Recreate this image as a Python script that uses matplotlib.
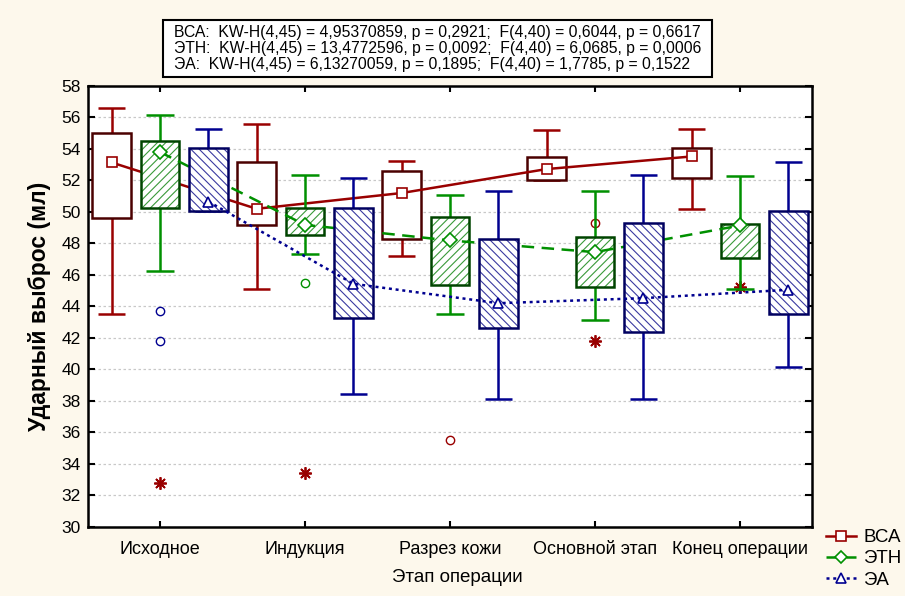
import matplotlib
matplotlib.use("Agg")
import matplotlib.pyplot as plt
from matplotlib.patches import Rectangle
from matplotlib.lines import Line2D
import numpy as np

plt.rcParams['font.family'] = ['Liberation Sans', 'DejaVu Sans']
plt.rcParams['hatch.linewidth'] = 0.8

# ==========================================
# DATOS
# ==========================================

etapy = ["Исходное", "Индукция", "Разрез кожи", "Основной этап", "Конец операции"]
gruppy = ["ВСА", "ЭТН", "ЭА"]

# ВСА
vsa_mean = [53.13, 50.19, 51.19, 52.71, 53.51]
vsa_box_lo = [49.60, 49.17, 48.27, 51.99, 52.14]
vsa_box_hi = [55.02, 53.16, 52.56, 53.47, 54.04]
vsa_wh_lo = [43.50, 45.11, 47.21, 51.99, 50.15]
vsa_wh_hi = [56.56, 55.59, 53.24, 55.16, 55.25]
vsa_out_x = [2, 3]
vsa_out_y = [35.5, 49.3]
vsa_ext_x = [0, 1, 3, 4]
vsa_ext_y = [32.8, 33.4, 41.8, 45.2]

# ЭТН
etn_mean = [53.79, 49.17, 48.18, 47.44, 49.13]
etn_box_lo = [50.23, 48.50, 45.34, 45.20, 47.06]
etn_box_hi = [54.50, 50.21, 49.64, 48.37, 49.24]
etn_wh_lo = [46.25, 47.31, 43.50, 43.16, 45.11]
etn_wh_hi = [56.16, 52.35, 51.04, 51.35, 52.24]
etn_out_x = [1]
etn_out_y = [45.5]

# ЭА
ea_mean = [50.65, 45.43, 44.20, 44.52, 45.05]
ea_box_lo = [50.06, 43.25, 42.60, 42.38, 43.52]
ea_box_hi = [54.04, 50.21, 48.27, 49.32, 50.06]
ea_wh_lo = [50.06, 38.46, 38.11, 38.15, 40.18]
ea_wh_hi = [55.25, 52.16, 51.35, 52.35, 53.16]
ea_out_x = [0, 0]
ea_out_y = [43.7, 41.8]

stat_text = ("ВСА:  KW-H(4,45) = 4,95370859, p = 0,2921;  F(4,40) = 0,6044, p = 0,6617\n"
             "ЭТН:  KW-H(4,45) = 13,4772596, p = 0,0092;  F(4,40) = 6,0685, p = 0,0006\n"
             "ЭА:  KW-H(4,45) = 6,13270059, p = 0,1895;  F(4,40) = 1,7785, p = 0,1522")

# ==========================================
# FIGURA
# ==========================================

fig = plt.figure(figsize=(9.05, 5.96), dpi=100, facecolor="#fdf8ec")
ax = fig.add_axes([87.5 / 905, 1 - 527 / 596, 724 / 905, 441.3 / 596])
ax.set_facecolor("white")

ancho = 0.267
cap = 0.19
desp = 0.334


def dibujar_serie(k, mean, blo, bhi, wlo, whi, col, col_marco, col_rayas, rayas,
                  estilo, marcador, z):
    xs = np.arange(len(mean)) + (k - 1) * desp
    for i, x in enumerate(xs):
        ax.vlines(x, wlo[i], whi[i], color=col, lw=1.8, zorder=z)
        ax.hlines([wlo[i], whi[i]], x - cap / 2, x + cap / 2, color=col, lw=1.8, zorder=z)
        ax.add_patch(Rectangle((x - ancho / 2, blo[i]), ancho, bhi[i] - blo[i],
                               facecolor="white", edgecolor="none", zorder=z + 0.1))
        if rayas:
            ax.add_patch(Rectangle((x - ancho / 2, blo[i]), ancho, bhi[i] - blo[i],
                                   fill=False, hatch=rayas, edgecolor=col_rayas,
                                   lw=0, zorder=z + 0.2))
        ax.add_patch(Rectangle((x - ancho / 2, blo[i]), ancho, bhi[i] - blo[i],
                               fill=False, edgecolor=col_marco, lw=1.8, zorder=z + 0.3))
    ax.plot(xs, mean, color=col, ls=estilo, lw=1.8, marker=marcador, ms=7,
            mfc="white", mec=col, mew=1.2, zorder=z + 0.5)


dibujar_serie(0, vsa_mean, vsa_box_lo, vsa_box_hi, vsa_wh_lo, vsa_wh_hi,
              "#990000", "#4a0000", None, None, "-", "s", 2)
dibujar_serie(1, etn_mean, etn_box_lo, etn_box_hi, etn_wh_lo, etn_wh_hi,
              "#009000", "#004400", "#3a9a3a", "////", (0, (5, 3)), "D", 3)
dibujar_serie(2, ea_mean, ea_box_lo, ea_box_hi, ea_wh_lo, ea_wh_hi,
              "#000090", "#000060", "#3a3aa0", "\\\\\\\\", (0, (1.2, 1.5)), "^", 4)

# выбросы
ax.plot(vsa_out_x, vsa_out_y, ls="none", marker="o", ms=6, mfc="none",
        mec="#990000", mew=1.0, zorder=2.6)
ax.plot(vsa_ext_x, vsa_ext_y, ls="none", marker=(8, 2, 0), ms=9,
        mec="#990000", mew=1.3, zorder=2.6)
ax.plot(etn_out_x, etn_out_y, ls="none", marker="o", ms=6, mfc="none",
        mec="#009000", mew=1.0, zorder=3.6)
ax.plot(ea_out_x, ea_out_y, ls="none", marker="o", ms=6, mfc="none",
        mec="#000090", mew=1.0, zorder=4.6)

ax.set_xlim(-0.5, 4.493)
ax.set_ylim(30, 58)
ax.set_yticks(np.arange(30, 59, 2))
ax.set_xticks(range(len(etapy)))
ax.set_xticklabels(etapy)
ax.yaxis.grid(True, color="#c8c8c8", ls=(0, (2, 2)), lw=0.9)
ax.set_axisbelow(True)
ax.tick_params(axis="both", direction="in", width=1.5,
               top=True, right=True, colors="black")
ax.tick_params(axis="y", length=5, pad=5, labelsize=12.5)
ax.tick_params(axis="x", length=4, pad=10, labelsize=13)
for s in ax.spines.values():
    s.set_linewidth(1.8)

fig.text(40 / 905, 1 - 306 / 596, "Ударный выброс (мл)", rotation=90,
         ha="center", va="center", fontsize=16.5, fontweight="bold")
fig.text(457 / 905, 1 - 578 / 596, "Этап операции", ha="center", va="center",
         fontsize=13.5)

# caja de estadisticos
fig.patches.append(Rectangle((163 / 905, 1 - 77 / 596), 549 / 905, 57 / 596,
                             transform=fig.transFigure, facecolor="white",
                             edgecolor="black", lw=1.5))
fig.text(174 / 905, 1 - 48.5 / 596, stat_text, ha="left", va="center",
         fontsize=11.3, linespacing=1.12)

# leyenda
h = [Line2D([], [], color="#990000", ls="-", lw=1.8, marker="s", ms=7,
            mfc="white", mew=1.2),
     Line2D([], [], color="#009000", ls=(0, (5, 3)), lw=1.8, marker="D", ms=6,
            mfc="white", mew=1.2),
     Line2D([], [], color="#000090", ls=(0, (1.2, 1.5)), lw=1.8, marker="^", ms=7,
            mfc="white", mew=1.2)]
fig.legend(h, gruppy, loc="upper left", bbox_to_anchor=(826 / 905, 1 - 529 / 596),
           frameon=False, fontsize=13.5, handlelength=1.6, handletextpad=0.4,
           labelspacing=0.22, borderaxespad=0, borderpad=0)

fig.savefig("out.png", dpi=100, facecolor=fig.get_facecolor())
